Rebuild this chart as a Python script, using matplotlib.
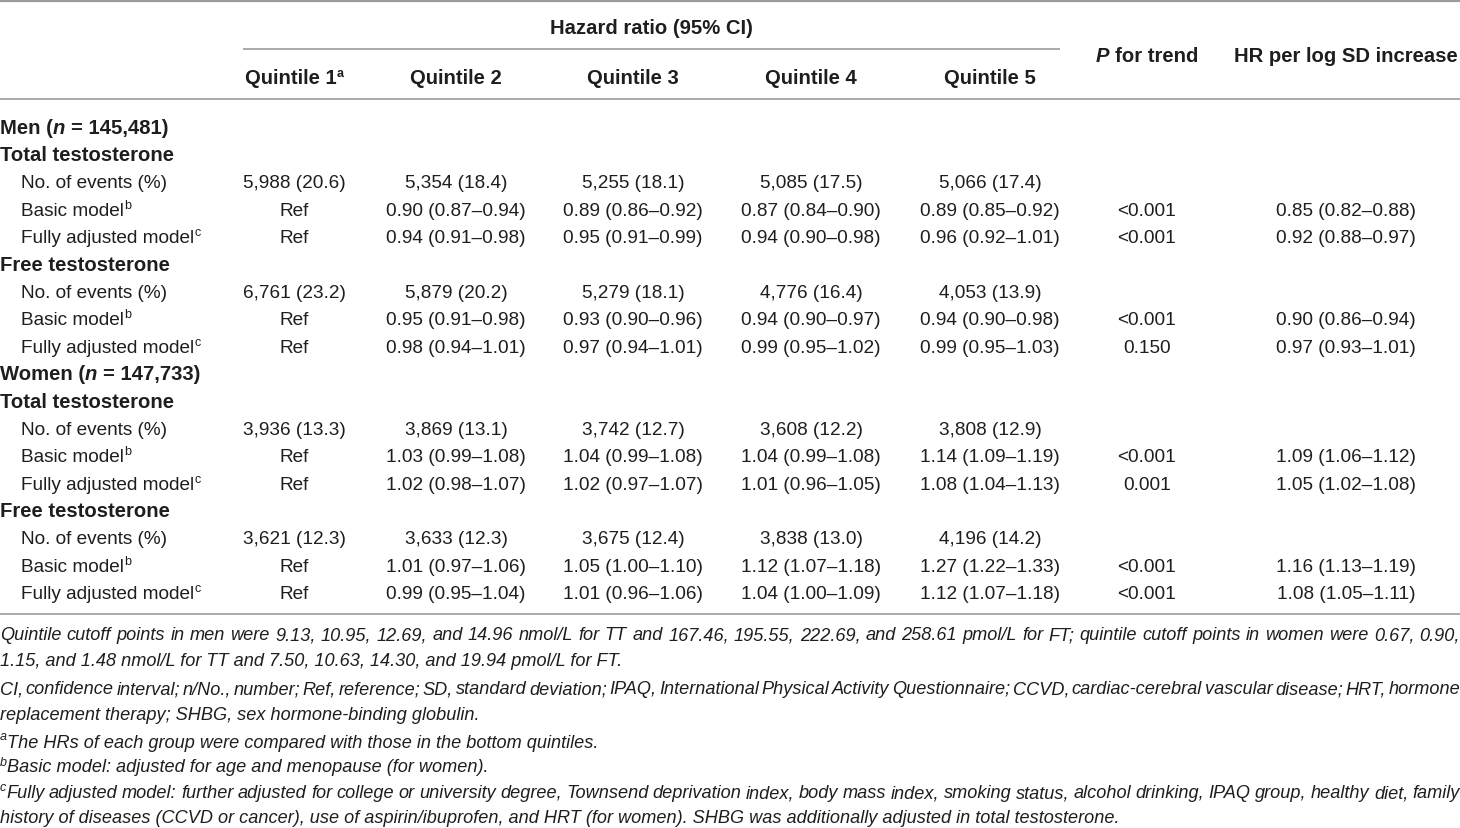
import matplotlib
matplotlib.use("Agg")
import matplotlib.pyplot as plt

# ---- table content ----
quintiles = ["Quintile 1", "Quintile 2", "Quintile 3", "Quintile 4", "Quintile 5"]
sexes = ["Men", "Women"]
sex_n = ["145,481", "147,733"]
hormones = ["Total testosterone", "Free testosterone"]
measures = ["No. of events (%)", "Basic model", "Fully adjusted model"]
measure_sups = ["", "b", "c"]

men_tt_events = ["5,988 (20.6)", "5,354 (18.4)", "5,255 (18.1)", "5,085 (17.5)", "5,066 (17.4)"]
men_tt_basic = ["Ref", "0.90 (0.87–0.94)", "0.89 (0.86–0.92)", "0.87 (0.84–0.90)", "0.89 (0.85–0.92)"]
men_tt_full = ["Ref", "0.94 (0.91–0.98)", "0.95 (0.91–0.99)", "0.94 (0.90–0.98)", "0.96 (0.92–1.01)"]
men_ft_events = ["6,761 (23.2)", "5,879 (20.2)", "5,279 (18.1)", "4,776 (16.4)", "4,053 (13.9)"]
men_ft_basic = ["Ref", "0.95 (0.91–0.98)", "0.93 (0.90–0.96)", "0.94 (0.90–0.97)", "0.94 (0.90–0.98)"]
men_ft_full = ["Ref", "0.98 (0.94–1.01)", "0.97 (0.94–1.01)", "0.99 (0.95–1.02)", "0.99 (0.95–1.03)"]
women_tt_events = ["3,936 (13.3)", "3,869 (13.1)", "3,742 (12.7)", "3,608 (12.2)", "3,808 (12.9)"]
women_tt_basic = ["Ref", "1.03 (0.99–1.08)", "1.04 (0.99–1.08)", "1.04 (0.99–1.08)", "1.14 (1.09–1.19)"]
women_tt_full = ["Ref", "1.02 (0.98–1.07)", "1.02 (0.97–1.07)", "1.01 (0.96–1.05)", "1.08 (1.04–1.13)"]
women_ft_events = ["3,621 (12.3)", "3,633 (12.3)", "3,675 (12.4)", "3,838 (13.0)", "4,196 (14.2)"]
women_ft_basic = ["Ref", "1.01 (0.97–1.06)", "1.05 (1.00–1.10)", "1.12 (1.07–1.18)", "1.27 (1.22–1.33)"]
women_ft_full = ["Ref", "0.99 (0.95–1.04)", "1.01 (0.96–1.06)", "1.04 (1.00–1.09)", "1.12 (1.07–1.18)"]

# p for trend and HR per log SD, per (basic, fully adjusted)
p_trend = {
    ("Men", "Total testosterone"): ["<0.001", "<0.001"],
    ("Men", "Free testosterone"): ["<0.001", "0.150"],
    ("Women", "Total testosterone"): ["<0.001", "0.001"],
    ("Women", "Free testosterone"): ["<0.001", "<0.001"],
}
hr_per_sd = {
    ("Men", "Total testosterone"): ["0.85 (0.82–0.88)", "0.92 (0.88–0.97)"],
    ("Men", "Free testosterone"): ["0.90 (0.86–0.94)", "0.97 (0.93–1.01)"],
    ("Women", "Total testosterone"): ["1.09 (1.06–1.12)", "1.05 (1.02–1.08)"],
    ("Women", "Free testosterone"): ["1.16 (1.13–1.19)", "1.08 (1.05–1.11)"],
}
cells = {
    ("Men", "Total testosterone"): [men_tt_events, men_tt_basic, men_tt_full],
    ("Men", "Free testosterone"): [men_ft_events, men_ft_basic, men_ft_full],
    ("Women", "Total testosterone"): [women_tt_events, women_tt_basic, women_tt_full],
    ("Women", "Free testosterone"): [women_ft_events, women_ft_basic, women_ft_full],
}

note_cutoffs = [
    "Quintile cutoff points in men were 9.13, 10.95, 12.69, and 14.96 nmol/L for TT and 167.46, "
    "195.55, 222.69, and 258.61 pmol/L for FT; quintile cutoff points in women were 0.67, 0.90,",
    "1.15, and 1.48 nmol/L for TT and 7.50, 10.63, 14.30, and 19.94 pmol/L for FT.",
]
note_abbrev = [
    "CI, confidence interval; n/No., number; Ref, reference; SD, standard deviation; IPAQ, International "
    "Physical Activity Questionnaire; CCVD, cardiac-cerebral vascular disease; HRT, hormone",
    "replacement therapy; SHBG, sex hormone-binding globulin.",
]
note_a = "The HRs of each group were compared with those in the bottom quintiles."
note_b = "Basic model: adjusted for age and menopause (for women)."
note_c = [
    "Fully adjusted model: further adjusted for college or university degree, Townsend deprivation index, "
    "body mass index, smoking status, alcohol drinking, IPAQ group, healthy diet, family",
    "history of diseases (CCVD or cancer), use of aspirin/ibuprofen, and HRT (for women). "
    "SHBG was additionally adjusted in total testosterone.",
]

# ---- layout ----
FONT = "Liberation Sans"
INK = "#1e1e1e"
RULE = "#9c9c9c"
BODY = 13.7
BOLD = 14.6
NOTE = 13.05
SUP = 9.0
W, H = 1460, 829

col_x = [294, 456, 633, 811, 990]
p_x, hr_x = 1147, 1346
label_x, indent_x = 0, 21
row0, row_h = 127, 27.4
base = 6.5  # baseline below row centre

fig = plt.figure(figsize=(W / 100, H / 100), dpi=100)
ax = fig.add_axes([0, 0, 1, 1])
ax.set_xlim(0, W)
ax.set_ylim(H, 0)
ax.axis("off")
renderer = fig.canvas.get_renderer()

STYLES = {"r": ("normal", "normal"), "b": ("normal", "bold"),
          "i": ("italic", "normal"), "bi": ("italic", "bold")}


def _text(s, size, code):
    style, weight = STYLES[code]
    return ax.text(0, 0, s, fontsize=size, fontstyle=style, fontweight=weight,
                   family=FONT, color=INK, va="baseline", ha="left")


def _width(t):
    return t.get_window_extent(renderer).width


_space_cache = {}


def space_w(size, code):
    key = (size, code)
    if key not in _space_cache:
        a, b = _text("x x", size, code), _text("xx", size, code)
        _space_cache[key] = _width(a) - _width(b)
        a.remove()
        b.remove()
    return _space_cache[key]


def build(runs, size):
    """runs: list of (text, code); code prefixed with '^' is a superscript"""
    items, total = [], 0.0
    for txt, code in runs:
        sup = code.startswith("^")
        code = code.lstrip("^")
        sz = SUP if sup else (BOLD if code.startswith("b") and size == BODY else size)
        lead = len(txt) - len(txt.lstrip(" "))
        trail = len(txt) - len(txt.rstrip(" "))
        sw = space_w(sz, code)
        total += lead * sw
        t = _text(txt.strip(" "), sz, code)
        items.append((t, total, sup))
        total += _width(t) + trail * sw
    return items, total


def place(items, x0, y):
    for t, off, sup in items:
        t.set_position((x0 + off, y - (7 if sup else 0)))


def runs_at(x, y, runs, ha="left", size=BODY):
    items, total = build(runs, size)
    x0 = {"left": x, "center": x - total / 2, "right": x - total}[ha]
    place(items, x0, y)
    return total


def justify(y, words, x_left=0, x_right=W, size=NOTE):
    built = [build(w, size) for w in words]
    used = sum(tw for _, tw in built)
    gap = (x_right - x_left - used) / (len(built) - 1)
    x = x_left
    for items, tw in built:
        place(items, x, y)
        x += tw + gap


# rules
ax.hlines(1.5, 0, W, color=RULE, lw=1.6)
ax.hlines(50, 243, 1060, color=RULE, lw=1.2)
ax.hlines(100, 0, W, color=RULE, lw=1.2)
ax.hlines(615, 0, W, color=RULE, lw=1.2)

# header
runs_at(651, 27 + base, [("Hazard ratio (95% CI)", "b")], ha="center")
for i, (q, x) in enumerate(zip(quintiles, col_x)):
    runs = [(q, "b")] + ([("a", "^b")] if i == 0 else [])
    runs_at(x, 77 + base, runs, ha="center")
runs_at(p_x, 55 + base, [("P", "bi"), (" for trend", "b")], ha="center")
runs_at(hr_x, 55 + base, [("HR per log SD increase", "b")], ha="center")

# body
row = 0
for sex, n in zip(sexes, sex_n):
    y = row0 + row * row_h + base
    runs_at(label_x, y, [(sex + " (", "b"), ("n", "bi"), (" = " + n + ")", "b")])
    row += 1
    for hormone in hormones:
        y = row0 + row * row_h + base
        runs_at(label_x, y, [(hormone, "b")])
        row += 1
        for m, (label, sup) in enumerate(zip(measures, measure_sups)):
            y = row0 + row * row_h + base
            runs = [(label, "r")] + ([(sup, "^r")] if sup else [])
            runs_at(indent_x, y, runs)
            for val, x in zip(cells[(sex, hormone)][m], col_x):
                runs_at(x, y, [(val, "r")], ha="center")
            if m > 0:
                runs_at(p_x, y, [(p_trend[(sex, hormone)][m - 1], "r")], ha="center")
                runs_at(hr_x, y, [(hr_per_sd[(sex, hormone)][m - 1], "r")], ha="center")
            row += 1

# footnotes
note_y = [635, 661, 689, 715, 742, 767, 793, 818]
nb = 5.5


def words_of(s):
    return [[(w, "i")] for w in s.split(" ")]


justify(note_y[0] + nb, words_of(note_cutoffs[0]))
runs_at(0, note_y[1] + nb, [(note_cutoffs[1], "i")], size=NOTE)
justify(note_y[2] + nb, words_of(note_abbrev[0]))
runs_at(0, note_y[3] + nb, [(note_abbrev[1], "i")], size=NOTE)
runs_at(0, note_y[4] + nb, [("a", "^i"), (note_a, "i")], size=NOTE)
runs_at(0, note_y[5] + nb, [("b", "^i"), (note_b, "i")], size=NOTE)
c_words = words_of(note_c[0])
c_words[0] = [("c", "^i")] + c_words[0]
justify(note_y[6] + nb, c_words)
runs_at(0, note_y[7] + nb, [(note_c[1], "i")], size=NOTE)

fig.savefig("out.png", dpi=100)
